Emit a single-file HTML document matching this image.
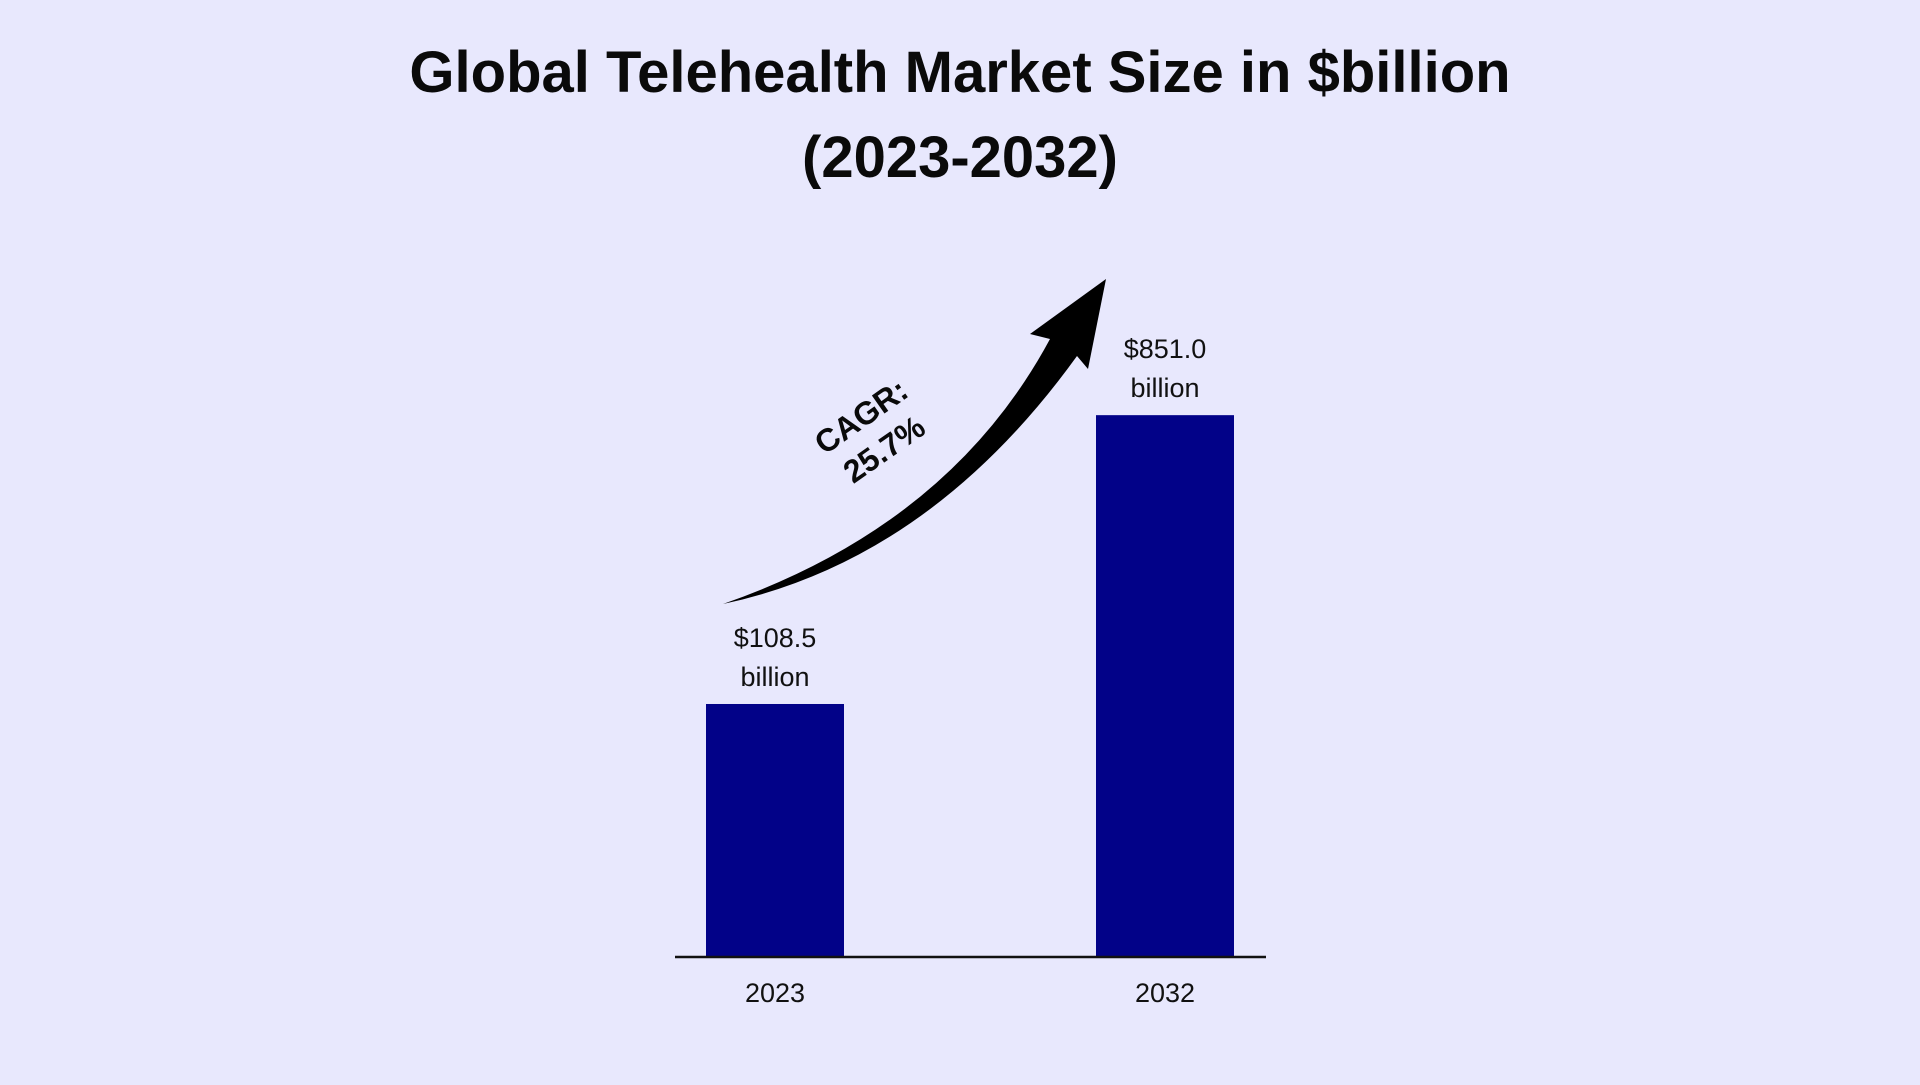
<!DOCTYPE html>
<html><head><meta charset="utf-8"><style>
html,body{margin:0;padding:0;}
body{width:1920px;height:1080px;background:#E8E8FD;overflow:hidden;font-family:"Liberation Sans",sans-serif;}
</style></head><body>
<svg id="chart" width="1920" height="1080" viewBox="0 0 1920 1080" xmlns="http://www.w3.org/2000/svg">
<rect width="1920" height="1080" fill="#E8E8FD"/>
<text x="960" y="92" text-anchor="middle" font-family="Liberation Sans, sans-serif" font-weight="bold" font-size="58" fill="#0a0a0a">Global Telehealth Market Size in $billion</text>
<text x="960" y="177" text-anchor="middle" font-family="Liberation Sans, sans-serif" font-weight="bold" font-size="58" fill="#0a0a0a">(2023-2032)</text>
<path d="M723,604 Q950,525 1050,339 L1030,334 L1106,279 L1088,369 L1077,356 Q930,560 723,604 Z" fill="#000"/>
<text transform="translate(872,432) rotate(-35)" text-anchor="middle" font-family="Liberation Sans, sans-serif" font-weight="bold" font-size="32" fill="#0a0a0a"><tspan x="0" y="-8">CAGR:</tspan><tspan x="0" y="32">25.7%</tspan></text>
<g id="bars"></g>
<line x1="675" y1="957" x2="1266" y2="957" stroke="#111" stroke-width="2.5"/>
</svg>
<script>
const categories = ["2023", "2032"];
const values = [108.5, 851.0];
const valueLabels = ["$108.5", "$851.0"];
const svg = document.getElementById('bars');
const NS = "http://www.w3.org/2000/svg";
const baseY = 956;
function yScale(v){ return baseY - (209.8 + 0.389 * v); }
function xCenter(i){ return 775 + i * 390; }
const barW = 138;
categories.forEach((c, i) => {
  const top = yScale(values[i]);
  const r = document.createElementNS(NS, 'rect');
  
  
  r.setAttribute('x', xCenter(i) - barW / 2);
  r.setAttribute('y', top);
  r.setAttribute('width', barW);
  r.setAttribute('height', baseY - top);
  r.setAttribute('fill', '#020288');
  svg.appendChild(r);
  const t = document.createElementNS(NS, 'text');
  
  
  t.setAttribute('text-anchor', 'middle');
  t.setAttribute('font-family', 'Liberation Sans, sans-serif');
  t.setAttribute('font-size', '27');
  t.setAttribute('fill', '#111');
  const s1 = document.createElementNS(NS, 'tspan');
  s1.setAttribute('x', xCenter(i)); s1.setAttribute('y', top - 57);
  s1.textContent = valueLabels[i];
  const s2 = document.createElementNS(NS, 'tspan');
  s2.setAttribute('x', xCenter(i)); s2.setAttribute('y', top - 18);
  s2.textContent = 'billion';
  t.appendChild(s1); t.appendChild(s2);
  svg.appendChild(t);
  const xl = document.createElementNS(NS, 'text');
  
  
  xl.setAttribute('x', xCenter(i));
  xl.setAttribute('y', 1002);
  xl.setAttribute('text-anchor', 'middle');
  xl.setAttribute('font-family', 'Liberation Sans, sans-serif');
  xl.setAttribute('font-size', '27');
  xl.setAttribute('fill', '#111');
  xl.textContent = c;
  svg.appendChild(xl);
});
</script>
</body></html>
